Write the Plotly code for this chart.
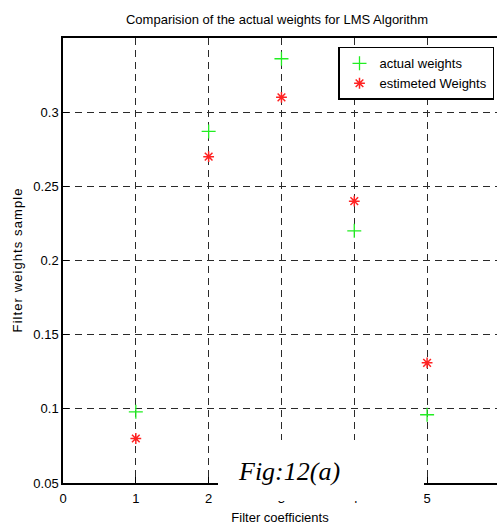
import plotly.graph_objects as go

# Filter tap indices and the weight values for each series
coefficients = [1, 2, 3, 4, 5]
actual_weights = [0.098, 0.287, 0.336, 0.220, 0.096]
estimated_weights = [0.080, 0.270, 0.310, 0.240, 0.131]

x_ticks = [0, 1, 2, 3, 4, 5]
y_ticks = [0.05, 0.1, 0.15, 0.2, 0.25, 0.3]
y_tick_labels = ["0.05", "0.1", "0.15", "0.2", "0.25", "0.3"]

FONT = "Liberation Sans, Arial, sans-serif"
PLOT_W = 434  # plot-area width in px


def spaced(text):
    # widen the letter spacing with hair spaces
    return "\u200a".join(text)


fig = go.Figure()
fig.add_trace(go.Scatter(
    x=coefficients, y=actual_weights, mode="markers", name="actual weights",
    marker=dict(symbol="cross-thin-open", size=10, color="#22ee22",
                line=dict(color="#22ee22", width=1.3)),
))
fig.add_trace(go.Scatter(
    x=coefficients, y=estimated_weights, mode="markers", name="estimeted Weights",
    marker=dict(symbol="asterisk-open", size=9, color="#ff2222",
                line=dict(color="#ff2222", width=1.5)),
))

grid = dict(showgrid=True, gridcolor="#2a2a2a", gridwidth=1, griddash="7px,5px")

fig.update_layout(
    width=497, height=527,
    margin=dict(l=63, r=0, t=38, b=44),
    paper_bgcolor="white", plot_bgcolor="white",
    font=dict(family=FONT, size=12, color="black"),
    title=dict(text="Comparision of the actual weights for LMS Algorithm",
               x=277 / 497, xanchor="center",
               y=1 - 19 / 527, yanchor="middle",
               font=dict(size=13, family=FONT)),
    xaxis=dict(range=[0, 5.96], tickvals=x_ticks, ticks="inside", ticklen=6,
               tickcolor="black", showline=True, linecolor="black", linewidth=1.5,
               mirror=True, zeroline=False, ticklabelstandoff=3,
               title=dict(text="Filter coefficients", standoff=8,
                          font=dict(size=13)),
               tickfont=dict(size=13), **grid),
    yaxis=dict(range=[0.05, 0.35], tickvals=y_ticks, ticktext=y_tick_labels,
               ticks="inside", ticklen=6, tickcolor="black", showline=True,
               linecolor="black", linewidth=1.5, mirror=False, zeroline=False,
               title=dict(text=spaced("Filter weights sample"), standoff=8,
                          font=dict(size=13)),
               tickfont=dict(size=13), **grid),
    legend=dict(x=(494 - 63) / PLOT_W, y=0.98, xanchor="right", yanchor="top",
                bgcolor="white", bordercolor="black", borderwidth=1.5,
                font=dict(size=13, family=FONT), itemwidth=30),
    showlegend=True,
)

# White panel carrying the figure caption over the lower axis
fig.add_shape(type="rect", xref="paper", yref="paper",
              x0=(218 - 63) / PLOT_W, x1=(424 - 63) / PLOT_W,
              y0=(483 - 501) / 445, y1=(483 - 440) / 445,
              fillcolor="white", line=dict(width=0), layer="above")
fig.add_annotation(text="<i>Fig:12(a)</i>", xref="paper", yref="paper",
                   x=(289 - 63) / PLOT_W, y=(483 - 471) / 445,
                   xanchor="center", yanchor="middle", showarrow=False,
                   font=dict(family="Liberation Serif, Times New Roman, serif",
                             size=26, color="black"))

fig.write_html("out.html")
